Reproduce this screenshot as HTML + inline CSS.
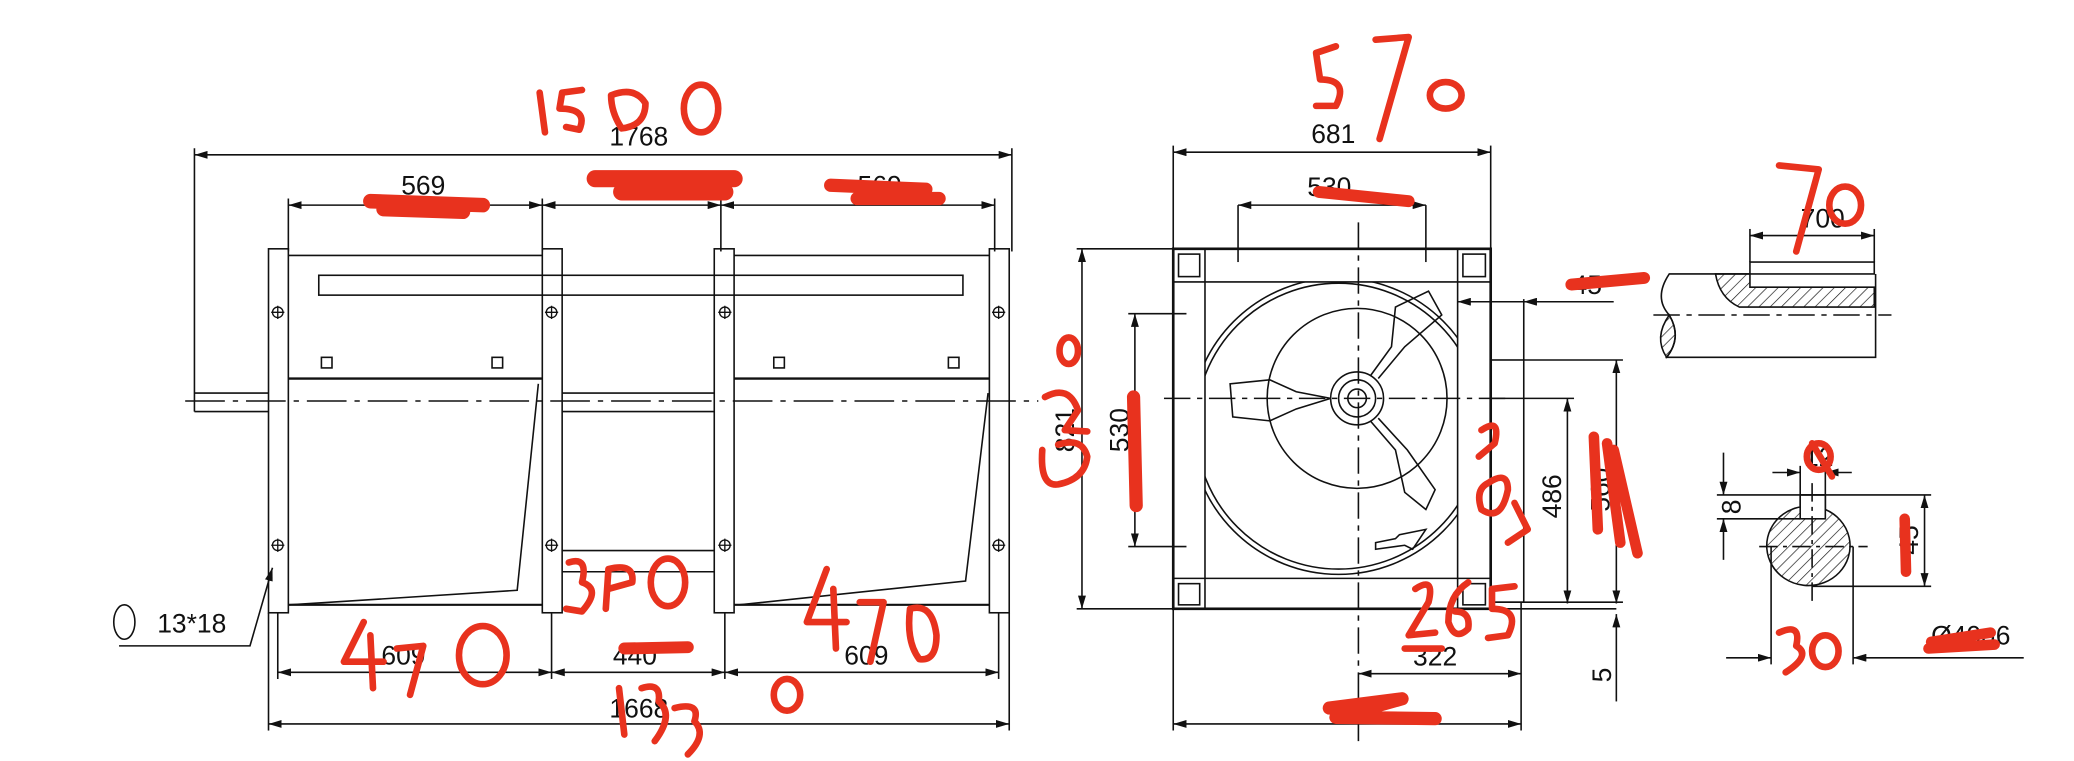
<!DOCTYPE html>
<html><head><meta charset="utf-8"><style>
html,body{margin:0;padding:0;background:#fff;width:2074px;height:761px;overflow:hidden}
svg{display:block}
text{font-family:"Liberation Sans",sans-serif;fill:#111}
</style></head><body>
<svg width="2074" height="761" viewBox="0 0 1568 575" preserveAspectRatio="none" xmlns="http://www.w3.org/2000/svg">
<defs>
<marker id="a" viewBox="0 0 10 6" refX="10" refY="3" markerWidth="10" markerHeight="6" orient="auto-start-reverse" markerUnits="userSpaceOnUse"><path d="M0,0L10,3L0,6z" fill="#111"/></marker>
<pattern id="h" width="6" height="6" patternUnits="userSpaceOnUse" patternTransform="rotate(45)"><line x1="0" y1="0" x2="0" y2="6" stroke="#111" stroke-width="1"/></pattern>
<clipPath id="ci"><rect x="911" y="213" width="191" height="224"/></clipPath>
</defs>
<g fill="none" stroke="#111" stroke-width="1.2">
<line x1="147" y1="117" x2="765" y2="117" marker-start="url(#a)" marker-end="url(#a)"/>
<line x1="147" y1="112" x2="147" y2="311"/><line x1="765" y1="112" x2="765" y2="190"/>
<line x1="218" y1="155" x2="410" y2="155" marker-start="url(#a)" marker-end="url(#a)"/>
<line x1="410" y1="155" x2="545" y2="155" marker-start="url(#a)" marker-end="url(#a)"/>
<line x1="545" y1="155" x2="752" y2="155" marker-start="url(#a)" marker-end="url(#a)"/>
<line x1="218" y1="150" x2="218" y2="190"/><line x1="410" y1="150" x2="410" y2="190"/><line x1="545" y1="150" x2="545" y2="190"/><line x1="752" y1="150" x2="752" y2="190"/>
<rect x="203" y="188" width="15" height="275"/><rect x="410" y="188" width="15" height="275"/><rect x="540" y="188" width="15" height="275"/><rect x="748" y="188" width="15" height="275"/>
<line x1="218" y1="193" x2="410" y2="193"/><line x1="555" y1="193" x2="748" y2="193"/>
<rect x="241" y="208" width="487" height="15"/>
<line x1="218" y1="286" x2="410" y2="286" stroke-width="1.8"/><line x1="555" y1="286" x2="748" y2="286" stroke-width="1.8"/>
<line x1="147" y1="297" x2="203" y2="297"/><line x1="147" y1="311" x2="203" y2="311"/>
<line x1="425" y1="297" x2="540" y2="297"/><line x1="425" y1="311" x2="540" y2="311"/>
<line x1="140" y1="303" x2="785" y2="303" stroke-dasharray="30,6,4,6"/>
<polyline points="407,290 391,446 219,457"/><line x1="218" y1="457" x2="410" y2="457" stroke-width="1.6"/>
<polyline points="747,297 730,439 559,457"/><line x1="555" y1="457" x2="748" y2="457" stroke-width="1.6"/>
<line x1="425" y1="416" x2="540" y2="416"/><line x1="425" y1="432" x2="540" y2="432"/>
<rect x="243" y="270" width="8" height="8"/><rect x="372" y="270" width="8" height="8"/><rect x="585" y="270" width="8" height="8"/><rect x="717" y="270" width="8" height="8"/>
<g stroke-width="1">
<circle cx="210" cy="236" r="4"/><circle cx="417" cy="236" r="4"/><circle cx="548" cy="236" r="4"/><circle cx="755" cy="236" r="4"/>
<circle cx="210" cy="412" r="4"/><circle cx="417" cy="412" r="4"/><circle cx="548" cy="412" r="4"/><circle cx="755" cy="412" r="4"/>
<path d="M205,236h10M210,231v10M412,236h10M417,231v10M543,236h10M548,231v10M750,236h10M755,231v10M205,412h10M210,407v10M412,412h10M417,407v10M543,412h10M548,407v10M750,412h10M755,407v10"/>
</g>
<line x1="210" y1="463" x2="210" y2="513"/><line x1="417" y1="463" x2="417" y2="513"/><line x1="548" y1="463" x2="548" y2="513"/><line x1="755" y1="463" x2="755" y2="513"/>
<line x1="210" y1="508" x2="417" y2="508" marker-start="url(#a)" marker-end="url(#a)"/>
<line x1="417" y1="508" x2="548" y2="508" marker-start="url(#a)" marker-end="url(#a)"/>
<line x1="548" y1="508" x2="755" y2="508" marker-start="url(#a)" marker-end="url(#a)"/>
<line x1="203" y1="463" x2="203" y2="552"/><line x1="763" y1="463" x2="763" y2="552"/>
<line x1="203" y1="547" x2="763" y2="547" marker-start="url(#a)" marker-end="url(#a)"/>
<polyline points="90,488 189,488 206,429" marker-end="url(#a)"/>
<ellipse cx="94" cy="470" rx="8" ry="13"/>
<line x1="887" y1="115" x2="1127" y2="115" marker-start="url(#a)" marker-end="url(#a)"/>
<line x1="887" y1="110" x2="887" y2="188"/><line x1="1127" y1="110" x2="1127" y2="188"/>
<line x1="936" y1="155" x2="1078" y2="155" marker-start="url(#a)" marker-end="url(#a)"/>
<line x1="936" y1="155" x2="936" y2="198"/><line x1="1078" y1="155" x2="1078" y2="198"/>
<rect x="887" y="188" width="240" height="272" stroke-width="2"/>
<line x1="887" y1="213" x2="1127" y2="213"/><line x1="887" y1="437" x2="1127" y2="437"/>
<line x1="911" y1="188" x2="911" y2="460"/><line x1="1102" y1="188" x2="1102" y2="460"/>
<rect x="891" y="192" width="16" height="17"/><rect x="1106" y="192" width="17" height="17"/><rect x="891" y="441" width="16" height="16"/><rect x="1106" y="441" width="17" height="16"/>
<g clip-path="url(#ci)"><circle cx="1012" cy="322" r="112"/><circle cx="1012" cy="322" r="108"/></g>
<circle cx="1026" cy="301" r="68"/>
<circle cx="1026" cy="301" r="20"/><circle cx="1026" cy="301" r="14"/><circle cx="1026" cy="301" r="7"/>
<path d="M1006,301 L980,309 L960,318 L932,315 L930,290 L960,287 L980,296z"/>
<path d="M1036,284 L1052,262 L1055,232 L1080,220 L1090,238 L1062,262 L1042,286"/>
<path d="M1036,318 L1055,340 L1062,372 L1078,385 L1085,370 L1064,340 L1042,316"/>
<path d="M1040,410 L1055,407 L1058,404 L1078,400 L1068,415 L1062,412 L1040,415z"/>
<line x1="1027" y1="168" x2="1027" y2="560" stroke-dasharray="20,5,4,5"/>
<line x1="880" y1="301" x2="1140" y2="301" stroke-dasharray="20,5,4,5"/>
<line x1="818" y1="188" x2="818" y2="460" marker-start="url(#a)" marker-end="url(#a)"/>
<line x1="814" y1="188" x2="887" y2="188"/><line x1="814" y1="460" x2="1222" y2="460"/>
<line x1="858" y1="237" x2="858" y2="413" marker-start="url(#a)" marker-end="url(#a)"/>
<line x1="853" y1="237" x2="897" y2="237"/><line x1="853" y1="413" x2="897" y2="413"/>
<rect x="1127" y="272" width="25" height="183"/>
<line x1="1102" y1="228" x2="1152" y2="228" marker-start="url(#a)"/>
<line x1="1152" y1="228" x2="1220" y2="228" marker-start="url(#a)"/><line x1="1152" y1="226" x2="1152" y2="272"/>
<line x1="1127" y1="301" x2="1190" y2="301"/><line x1="1152" y1="272" x2="1227" y2="272"/>
<line x1="1185" y1="301" x2="1185" y2="456" marker-start="url(#a)" marker-end="url(#a)"/>
<line x1="1222" y1="272" x2="1222" y2="456" marker-start="url(#a)" marker-end="url(#a)"/>
<line x1="1222" y1="464" x2="1222" y2="530" marker-start="url(#a)"/>
<line x1="1150" y1="455" x2="1150" y2="552"/><line x1="1127" y1="455" x2="1227" y2="455"/>
<line x1="1027" y1="509" x2="1150" y2="509" marker-start="url(#a)" marker-end="url(#a)"/>
<line x1="887" y1="460" x2="887" y2="552"/>
<line x1="887" y1="547" x2="1150" y2="547" marker-start="url(#a)" marker-end="url(#a)"/>
<path d="M1323,207 L1262,207 Q1250,225 1262,238 Q1272,255 1260,270 L1418,270 L1418,207"/>
<rect x="1323" y="198" width="94" height="9"/>
<path d="M1297,207 L1323,207 L1323,217 L1417,217 L1417,232 L1315,232 Q1300,225 1297,207z" fill="url(#h)"/>
<path d="M1262,238 Q1250,255 1260,270 Q1272,255 1262,238z" fill="url(#h)"/>
<line x1="1250" y1="238" x2="1430" y2="238" stroke-dasharray="20,5,4,5"/>
<line x1="1323" y1="173" x2="1323" y2="198"/><line x1="1417" y1="173" x2="1417" y2="198"/>
<line x1="1323" y1="178" x2="1417" y2="178" marker-start="url(#a)" marker-end="url(#a)"/>
<path d="M1361,383 L1361,374 L1380,374 L1380,385 A31.5,30 0 1 1 1361,383z" fill="url(#h)"/>
<rect x="1361" y="374" width="19" height="18" fill="#fff"/>
<line x1="1330" y1="413" x2="1412" y2="413" stroke-dasharray="14,4,3,4"/>
<line x1="1370" y1="365" x2="1370" y2="455" stroke-dasharray="14,4,3,4"/>
<line x1="1340" y1="357" x2="1361" y2="357" marker-end="url(#a)"/><line x1="1380" y1="357" x2="1400" y2="357" marker-start="url(#a)"/>
<line x1="1361" y1="352" x2="1361" y2="374"/><line x1="1380" y1="352" x2="1380" y2="374"/>
<line x1="1298" y1="374" x2="1460" y2="374"/><line x1="1298" y1="392" x2="1361" y2="392"/>
<line x1="1303" y1="342" x2="1303" y2="374" marker-end="url(#a)"/><line x1="1303" y1="392" x2="1303" y2="423" marker-start="url(#a)"/>
<line x1="1370" y1="443" x2="1460" y2="443"/>
<line x1="1455" y1="374" x2="1455" y2="443" marker-start="url(#a)" marker-end="url(#a)"/>
<line x1="1339" y1="413" x2="1339" y2="502"/><line x1="1401" y1="413" x2="1401" y2="502"/>
<line x1="1305" y1="497" x2="1339" y2="497" marker-end="url(#a)"/><line x1="1401" y1="497" x2="1530" y2="497" marker-start="url(#a)"/>
</g>
<g font-size="20" text-anchor="middle">
<text x="483" y="110">1768</text><text x="320" y="147">569</text><text x="665" y="147">569</text>
<text x="305" y="502">609</text><text x="655" y="502">609</text><text x="480" y="502">440</text>
<text x="483" y="542">1668</text><text x="145" y="478">13*18</text>
<text x="1008" y="108">681</text><text x="1005" y="148">530</text><text x="1085" y="503">322</text>
<text x="1378" y="172">700</text><text x="1200" y="222">45</text><text x="1375" y="352">12</text>
<text x="1490" y="487">Ø40g6</text>
<text transform="translate(1218,510) rotate(-90)">5</text>
<text transform="translate(1316,383) rotate(-90)">8</text>
<text transform="translate(812,325) rotate(-90)">821</text>
<text transform="translate(853,325) rotate(-90)">530</text>
<text transform="translate(1180,375) rotate(-90)">486</text>
<text transform="translate(1217,370) rotate(-90)">560</text>
<text transform="translate(1450,408) rotate(-90)">45</text>
</g>
<g fill="none" stroke="#e8321e" stroke-width="5" stroke-linecap="round" stroke-linejoin="round">
<path d="M408,70 L412,100"/><path d="M440,68 L425,70 L423,82 Q445,82 438,98 L428,96"/><path d="M462,72 Q480,65 488,78 Q488,95 470,97 Q462,85 462,72"/><ellipse cx="530" cy="82" rx="13" ry="18"/>
<path d="M280,152 L365,155 M290,158 L350,160" stroke-width="11"/><path d="M450,135 L555,135 M470,145 L548,145" stroke-width="13"/><path d="M628,140 L700,143 M648,150 L710,150" stroke-width="10"/>
<path d="M275,470 L260,500 L290,500 M280,480 L282,520"/><path d="M300,490 L320,488 L310,525"/><ellipse cx="365" cy="495" rx="18" ry="22"/>
<path d="M430,425 Q445,420 440,440 Q455,445 440,462 L428,460"/><path d="M460,430 L458,460 M460,430 Q480,425 478,440 L460,445"/><ellipse cx="505" cy="440" rx="13" ry="18"/>
<path d="M472,490 L520,489" stroke-width="9"/>
<path d="M625,430 L610,470 L640,470 M630,445 L632,490"/><path d="M650,455 L668,455 L658,500"/><path d="M688,460 Q705,455 708,480 Q708,500 695,498 Q685,485 688,460"/>
<path d="M468,520 L472,555"/><path d="M485,520 Q500,515 498,530 Q510,540 495,560"/><path d="M510,535 Q530,530 525,545 Q535,555 520,570"/><ellipse cx="595" cy="525" rx="10" ry="12"/>
<path d="M1010,35 L995,40 L998,60 Q1020,60 1010,80 L995,80"/><path d="M1040,30 L1065,28 L1043,105"/><ellipse cx="1093" cy="72" rx="12" ry="10"/>
<path d="M997,145 L1065,152" stroke-width="9"/>
<path d="M1345,125 L1375,128 L1358,190"/><ellipse cx="1395" cy="155" rx="12" ry="14"/>
<path d="M1188,215 L1243,210" stroke-width="9"/>
<path d="M788,340 Q786,368 800,366 Q820,362 822,345 Q818,330 800,336"/><path d="M790,300 Q808,290 815,310 L805,325 L822,326"/><ellipse cx="808" cy="265" rx="7" ry="10"/>
<path d="M857,300 L859,382" stroke-width="10"/>
<path d="M1120,325 Q1135,315 1130,335 L1118,345"/><path d="M1125,365 Q1140,355 1140,370 Q1135,395 1120,385 Q1115,370 1125,365"/><path d="M1145,380 L1155,400 L1140,410"/>
<path d="M1205,330 L1208,400 M1215,335 L1225,410 M1220,340 L1238,418" stroke-width="8"/>
<path d="M1070,445 Q1085,435 1080,455 L1065,480 L1085,478"/><path d="M1110,440 Q1095,450 1095,470 Q1100,485 1110,475 Q1112,462 1100,462"/><path d="M1145,443 L1128,445 L1128,460 Q1150,460 1140,480 L1125,482"/>
<path d="M1062,490 L1090,490"/>
<path d="M1005,535 L1060,528 L1010,542 L1085,543" stroke-width="10"/>
<ellipse cx="1375" cy="345" rx="9" ry="10"/><path d="M1370,335 L1385,360"/>
<path d="M1440,392 L1441,432" stroke-width="8"/>
<path d="M1345,478 Q1362,470 1358,488 Q1370,495 1350,508"/><ellipse cx="1380" cy="492" rx="10" ry="12"/>
<path d="M1460,485 L1505,478 M1458,490 L1508,487" stroke-width="8"/>
</g>
</svg>
</body></html>
